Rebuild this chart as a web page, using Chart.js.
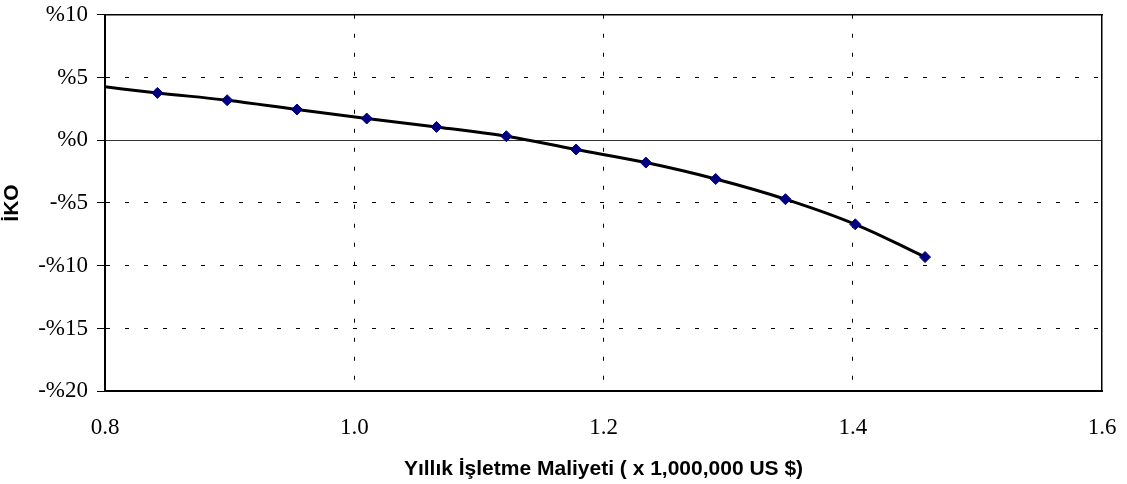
<!DOCTYPE html>
<html lang="tr">
<head>
    <meta charset="UTF-8">
    <title>İKO - Yıllık İşletme Maliyeti</title>
    <script src="https://cdn.jsdelivr.net/npm/chart.js"></script>
    <style>
        html, body { margin: 0; padding: 0; background: #fff; }
        #wrap { width: 1127px; height: 484px; }
    </style>
</head>
<body>
    <div id="wrap"><canvas id="grafik"></canvas></div>

    <script>
        // Yıllık işletme maliyeti (x 1,000,000 US $)
        const maliyet = [0.786, 0.842, 0.898, 0.954, 1.010, 1.066, 1.122, 1.178, 1.234, 1.290, 1.346, 1.402, 1.458];
        // İKO (%)
        const iko = [4.42, 3.77, 3.19, 2.45, 1.73, 1.06, 0.32, -0.74, -1.78, -3.09, -4.70, -6.70, -9.31];

        const xMin = 0.8, xMax = 1.6, xAdim = 0.2;
        const yMin = -20, yMax = 10, yAdim = 5;

        const noktalar = maliyet.map((m, i) => ({ x: m, y: iko[i] }));

        // y etiketi: %10, %5, %0, -%5 ...
        const yuzdeEtiket = v => (v < 0 ? '-%' + Math.abs(v) : '%' + v);

        const serifAile = "'Liberation Serif', 'Times New Roman', serif";
        const xSeritFont = { family: serifAile, size: 23 };
        // küçük satır yüksekliği: üst boşluğu daraltmak için
        const ySeritFont = { family: serifAile, size: 23, lineHeight: 0.5 };
        const baslikFont = { family: "'Liberation Sans', Arial, sans-serif", size: 21, weight: 'bold' };
        const kesikCizgi = [4, 15];
        const seffaf = 'rgba(0,0,0,0)';

        const ctx = document.getElementById('grafik').getContext('2d');
        new Chart(ctx, {
            type: 'scatter',
            data: {
                datasets: [{
                    label: 'İKO',
                    data: noktalar,
                    showLine: true,
                    borderColor: '#000000',
                    borderWidth: 3,
                    tension: 0.4,
                    pointStyle: 'rectRot',
                    pointRadius: noktalar.map((_, i) => (i === 0 ? 0 : 5.5)),
                    pointBackgroundColor: '#000080',
                    pointBorderColor: '#000080',
                    pointBorderWidth: 1
                }]
            },
            options: {
                responsive: true,
                maintainAspectRatio: false,
                animation: false,
                layout: { padding: { top: 0, right: 25, left: 0, bottom: 2 } },
                plugins: {
                    legend: { display: false },
                    tooltip: { enabled: false }
                },
                scales: {
                    x: {
                        type: 'linear',
                        min: xMin,
                        max: xMax,
                        ticks: {
                            stepSize: xAdim,
                            color: '#000',
                            font: xSeritFont,
                            padding: 4,
                            callback: v => v.toFixed(1)
                        },
                        grid: {
                            drawTicks: true,
                            tickLength: 19,
                            tickColor: seffaf,
                            color: c => (c.tick.value <= xMin + 1e-9 || c.tick.value >= xMax - 1e-9) ? seffaf : '#000',
                            lineWidth: 1
                        },
                        border: { display: true, color: '#000', width: 2, dash: kesikCizgi },
                        title: {
                            display: true,
                            text: 'Yıllık İşletme Maliyeti ( x 1,000,000 US $)',
                            color: '#000',
                            font: baslikFont,
                            padding: { top: 11, bottom: 0 }
                        }
                    },
                    xUst: {
                        type: 'linear',
                        position: 'top',
                        min: xMin,
                        max: xMax,
                        ticks: { display: false },
                        grid: { display: false, drawTicks: false },
                        border: { display: true, color: '#000', width: 1.5 }
                    },
                    y: {
                        type: 'linear',
                        min: yMin,
                        max: yMax,
                        ticks: {
                            stepSize: yAdim,
                            color: '#000',
                            font: ySeritFont,
                            padding: 9,
                            callback: yuzdeEtiket
                        },
                        grid: {
                            tickLength: 8,
                            tickColor: '#000',
                            tickBorderDash: [],
                            color: c => (c.tick.value === 0 || c.tick.value === yMin || c.tick.value === yMax) ? seffaf : '#000',
                            lineWidth: 1
                        },
                        border: { display: true, color: '#000', width: 2, dash: kesikCizgi },
                        title: {
                            display: true,
                            text: 'İKO',
                            color: '#000',
                            font: baslikFont,
                            padding: { top: 0, bottom: 4 }
                        }
                    },
                    ySag: {
                        type: 'linear',
                        position: 'right',
                        min: yMin,
                        max: yMax,
                        ticks: { display: false, stepSize: yAdim },
                        grid: {
                            drawTicks: false,
                            color: c => (c.tick.value === 0 ? '#333' : seffaf),
                            lineWidth: 1
                        },
                        border: { display: true, color: '#000', width: 1.5 }
                    }
                }
            }
        });
    </script>
</body>
</html>
